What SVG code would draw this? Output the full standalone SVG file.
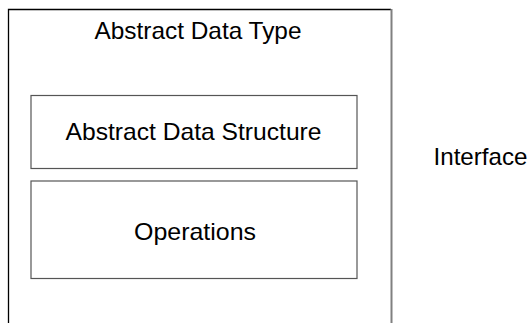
<svg xmlns="http://www.w3.org/2000/svg" width="528" height="323" viewBox="0 0 528 323">
<style>
text{font-family:"Liberation Sans",Arial,sans-serif;font-size:24px;fill:#000;text-anchor:middle}
.inner{fill:#fff;stroke:#555;stroke-width:1.2}
</style>
<rect width="528" height="323" fill="#fff"/>
<g id="adt">
<path d="M8.5,324 V9.5 H391" fill="none" stroke="#000" stroke-width="1.3"/>
<line x1="391.5" y1="9" x2="391.5" y2="324" stroke="#808080" stroke-width="2"/>
<text x="198" y="39" textLength="207" lengthAdjust="spacingAndGlyphs">Abstract Data Type</text>
</g>
<g id="ads">
<rect class="inner" x="31" y="95.5" width="326" height="73"/>
<text x="193.5" y="140" textLength="256" lengthAdjust="spacingAndGlyphs">Abstract Data Structure</text>
</g>
<g id="ops">
<rect class="inner" x="31" y="181" width="326" height="97.5"/>
<text x="195" y="239.5" textLength="122" lengthAdjust="spacingAndGlyphs">Operations</text>
</g>
<g id="interface">
<text x="480.5" y="165" textLength="94" lengthAdjust="spacingAndGlyphs">Interface</text>
</g>
<g id="connectors"></g>
</svg>
